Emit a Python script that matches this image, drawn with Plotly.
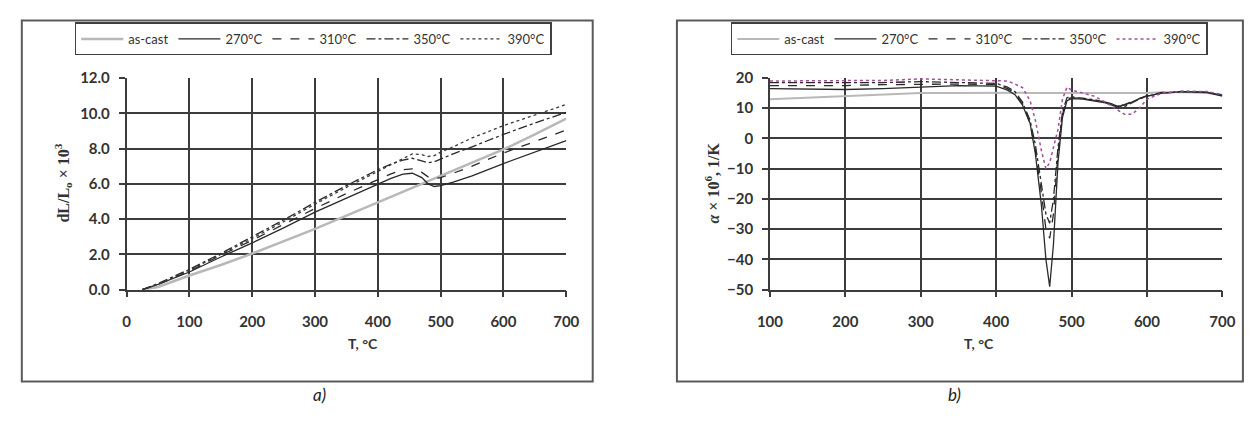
import plotly.graph_objects as go

W, H = 1252, 426

def px(x):
    return x / W

def py(y):
    return 1 - y / H

# ---------------- data: chart a) dL/L0 x 10^3 ----------------
T_a = [25, 50, 100, 150, 200, 250, 300, 350, 400, 420, 440, 455, 470, 480, 490,
       500, 520, 550, 600, 650, 700]
dl_ascast = [0, 0.15, 0.8, 1.4, 2.05, 2.75, 3.45, 4.2, 4.95, 5.25, 5.55, 5.8, 6.0,
             6.15, 6.3, 6.45, 6.75, 7.2, 7.95, 8.8, 9.7]
dl_270 = [0, 0.3, 1.0, 1.85, 2.65, 3.5, 4.4, 5.2, 6.0, 6.3, 6.55, 6.6, 6.35, 6.0,
          5.85, 5.9, 6.1, 6.45, 7.15, 7.8, 8.45]
dl_310 = [0, 0.3, 1.05, 1.95, 2.8, 3.7, 4.6, 5.45, 6.25, 6.55, 6.8, 6.85, 6.65, 6.4,
          6.3, 6.35, 6.6, 7.0, 7.75, 8.4, 9.05]
dl_350 = [0, 0.35, 1.15, 2.05, 3.0, 3.95, 4.95, 5.9, 6.8, 7.1, 7.35, 7.45, 7.3, 7.2,
          7.25, 7.4, 7.7, 8.1, 8.8, 9.45, 10.05]
dl_390 = [0, 0.3, 1.1, 2.0, 2.9, 3.85, 4.85, 5.8, 6.7, 7.1, 7.45, 7.7, 7.65, 7.55,
          7.6, 7.8, 8.1, 8.6, 9.3, 9.9, 10.5]

# ---------------- data: chart b) alpha x 10^6 ----------------
T_b = [100, 150, 200, 250, 300, 350, 400, 415, 425, 435, 445, 452, 460, 466, 471,
       476, 482, 488, 494, 500, 515, 530, 545, 560, 570, 580, 590, 600, 620, 650,
       680, 700]
al_ascast = [13, 13.5, 14, 14.5, 15, 15, 15.2, 15.2, 15.2, 15.1, 15, 15, 15, 15, 15,
             15, 15, 15, 15, 15, 15, 15, 15, 15, 15, 15, 15, 15, 15.3, 15.3, 15, 14.5]
al_270 = [16.5, 16.3, 16.2, 16.5, 17, 17.5, 17.3, 16, 14.5, 11, 5, -5, -22, -40, -49,
          -35, -8, 7, 12.5, 13.2, 13, 12.5, 11.8, 10.5, 11, 12, 13.2, 14, 15, 15.5,
          15.2, 14]
al_310 = [17.5, 17.5, 17.5, 17.8, 18, 18, 17.8, 16.5, 15, 11.5, 5, -4, -18, -30, -33,
          -25, -5, 8, 13, 13.5, 13.2, 12.7, 12, 11, 11.2, 12.2, 13.3, 14.2, 15.2,
          15.6, 15.3, 14.2]
al_350 = [18.5, 18.5, 18.3, 18.5, 18.8, 18.6, 18.2, 17, 15.5, 12, 6, -2, -15, -25,
          -28, -20, -3, 9, 13.5, 13.8, 13.3, 12.8, 12, 10.8, 10.5, 11.8, 13, 14, 15,
          15.5, 15.3, 14.3]
al_390 = [19, 19, 19, 19.2, 19.7, 19.5, 19.3, 19, 18, 16.8, 12.5, 6, -4, -10, -8, -3,
          3, 13, 17, 16, 15, 14, 12, 9.5, 8, 8, 10, 13, 15, 15.7, 15.5, 14.5]

names = ["as-cast", "270°C", "310°C", "350°C", "390°C"]
series_a = [dl_ascast, dl_270, dl_310, dl_350, dl_390]
series_b = [al_ascast, al_270, al_310, al_350, al_390]

styles_a = [
    dict(color="#b8b8b8", width=2.5, dash="solid"),
    dict(color="#2a2a2a", width=1.3, dash="solid"),
    dict(color="#2a2a2a", width=1.3, dash="dash"),
    dict(color="#2a2a2a", width=1.3, dash="dashdot"),
    dict(color="#3a3a3a", width=1.3, dash="dot"),
]
styles_b = [
    dict(color="#b8b8b8", width=2.0, dash="solid"),
    dict(color="#2a2a2a", width=1.3, dash="solid"),
    dict(color="#2a2a2a", width=1.3, dash="dash"),
    dict(color="#2a2a2a", width=1.3, dash="dashdot"),
    dict(color="#a0509a", width=1.5, dash="dot"),
]

fig = go.Figure()
for n, ys, st in zip(names, series_a, styles_a):
    fig.add_trace(go.Scatter(x=T_a, y=ys, name=n, mode="lines", line=st,
                             xaxis="x", yaxis="y", legend="legend"))
for n, ys, st in zip(names, series_b, styles_b):
    fig.add_trace(go.Scatter(x=T_b, y=ys, name=n, mode="lines", line=st,
                             xaxis="x2", yaxis="y2", legend="legend2"))

tickfont = dict(family="Lato", size=15, color="#333333", weight="bold")
grid = dict(showgrid=True, gridcolor="#3c3c3c", gridwidth=1.5, zeroline=False,
            showline=True, linecolor="#3c3c3c", linewidth=1.5,
            ticks="outside", ticklen=6, tickcolor="#3c3c3c", tickwidth=1.5,
            tickfont=tickfont)

ydom = [py(292), py(71)]
legend_common = dict(orientation="h", xanchor="left", yanchor="top",
                     bordercolor="#404040", borderwidth=1.5, bgcolor="white",
                     font=dict(family="Lato", size=13, color="#333333"),
                     itemwidth=42, tracegroupgap=0)
fig.update_layout(
    width=W, height=H,
    margin=dict(l=0, r=0, t=0, b=0),
    paper_bgcolor="white", plot_bgcolor="white",
    xaxis=dict(domain=[px(116), px(565)], range=[0, 700], dtick=100, anchor="y",
               ticklabelstandoff=12, **grid),
    yaxis=dict(domain=ydom, range=[0, 12], dtick=2, tickformat=".1f", anchor="x",
               ticklabelstandoff=6, **grid),
    xaxis2=dict(domain=[px(773), px(1235)], range=[100, 700], dtick=100, anchor="y2",
                ticklabelstandoff=12, **grid),
    yaxis2=dict(domain=ydom, range=[-50, 20], dtick=10, anchor="x2",
                ticklabelstandoff=6, **grid),
    legend=dict(x=px(63), y=py(13), **legend_common),
    legend2=dict(x=px(733), y=py(13), **legend_common),
    showlegend=True,
)

# outer chart frames
fig.add_shape(type="rect", xref="paper", yref="paper", x0=px(9), x1=px(592),
              y0=py(388), y1=py(11), line=dict(color="#5a5a5a", width=2), layer="below")
fig.add_shape(type="rect", xref="paper", yref="paper", x0=px(678), x1=px(1256),
              y0=py(388), y1=py(11), line=dict(color="#5a5a5a", width=2), layer="below")

# axis titles and panel labels
ann_font = dict(family="Lato", size=14, color="#333333", weight="bold")
serif = dict(family="Liberation Serif", size=16, color="#333333", weight="bold")
fig.add_annotation(text="T, °C", x=px(340), y=py(359), xref="paper", yref="paper",
                   showarrow=False, font=ann_font)
fig.add_annotation(text="T, °C", x=px(1004), y=py(359), xref="paper", yref="paper",
                   showarrow=False, font=ann_font)
fig.add_annotation(text="dL/L<sub>o</sub> × 10<sup>3</sup>", x=px(38), y=py(181),
                   xref="paper", yref="paper", showarrow=False, textangle=-90, font=serif)
fig.add_annotation(text="<i>α</i> × 10<sup>6</sup>, 1/K", x=px(714), y=py(181),
                   xref="paper", yref="paper", showarrow=False, textangle=-90, font=serif)
fig.add_annotation(text="<i>a)</i>", x=px(304), y=py(415), xref="paper", yref="paper",
                   showarrow=False, font=dict(family="Lato", size=17, color="#222222"))
fig.add_annotation(text="<i>b)</i>", x=px(970), y=py(415), xref="paper", yref="paper",
                   showarrow=False, font=dict(family="Lato", size=17, color="#222222"))

fig.write_html("out.html")
